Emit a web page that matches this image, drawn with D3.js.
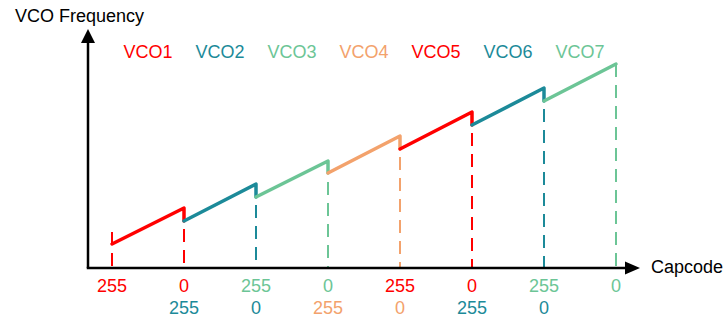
<!DOCTYPE html>
<html><head><meta charset="utf-8">
<script src="https://cdn.jsdelivr.net/npm/d3@7"></script>
<style>
html,body{margin:0;padding:0;background:#fff;}
svg{display:block;font-family:"Liberation Sans",Arial,Helvetica,sans-serif;}
</style></head>
<body>
<script>
// ---- data ----
const vcoNames = ["VCO1","VCO2","VCO3","VCO4","VCO5","VCO6","VCO7"];
const vcoColors = ["#ff0000","#1c8a99","#6cc596","#f3a26c","#ff0000","#1c8a99","#6cc596"];
const freqStart = [24, 47, 71, 95, 119, 143, 167];   // frequency at capcode 255 (arb. units)
const freqEnd   = [60, 84, 107, 132, 156, 180, 204]; // frequency at capcode 0
const capStart = ["255","255","255","255","255","255","255"];
const capEnd   = ["0","0","0","0","0","0","0"];
const firstMarkTop = 36; // top of the first boundary marker
const xAxisTitle = "Capcode";
const yAxisTitle = "VCO Frequency";

// ---- layout ----
const W = 726, H = 318;
const svg = d3.select("body").append("svg").attr("width", W).attr("height", H);
const nB = vcoNames.length; // boundaries 0..nB
const x = d3.scaleLinear().domain([0, nB]).range([112, 616]);
const y = d3.scaleLinear().domain([0, 240]).range([268, 28]);
const x0 = 88, yAx = y(0);

// dashed boundary markers (drawn first)
const bounds = d3.range(nB + 1).map(i => ({
  i,
  top: i === 0 ? firstMarkTop : freqEnd[i - 1],
  color: vcoColors[i === 0 ? 0 : i - 1]
}));
svg.append("g").selectAll("line").data(bounds).join("line")
  .attr("x1", d => x(d.i)).attr("x2", d => x(d.i))
  .attr("y1", d => y(d.top)).attr("y2", yAx)
  .attr("stroke", d => d.color).attr("stroke-width", 2)
  .attr("stroke-dasharray", "13,8");

// VCO segments with drop to next
const segs = vcoNames.map((n, i) => ({ i, name: n }));
const g = svg.append("g");
g.selectAll("path").data(segs).join("path")
  .attr("d", d => {
    const p = d3.path();
    p.moveTo(x(d.i), y(freqStart[d.i]));
    p.lineTo(x(d.i + 1), y(freqEnd[d.i]));
    if (d.i + 1 < nB) p.lineTo(x(d.i + 1), y(freqStart[d.i + 1]));
    return p.toString();
  })
  .attr("fill", "none")
  .attr("stroke", d => vcoColors[d.i])
  .attr("stroke-width", 3.5)
  .attr("stroke-linejoin", "round")
  .attr("stroke-linecap", "round");

// legend labels above segments
svg.append("g").selectAll("text").data(segs).join("text")
  .attr("x", d => (x(d.i) + x(d.i + 1)) / 2)
  .attr("y", 58)
  .attr("text-anchor", "middle")
  .attr("font-size", 18)
  .attr("fill", d => vcoColors[d.i])
  .text(d => d.name);

// axes
svg.append("line").attr("x1", x0).attr("x2", x0).attr("y1", yAx).attr("y2", 42)
  .attr("stroke", "#000").attr("stroke-width", 2.5);
svg.append("path").attr("d", `M${x0 - 7},43 L${x0},29 L${x0 + 7},43 Z`).attr("fill", "#000");
svg.append("line").attr("x1", x0 - 1.25).attr("x2", 627).attr("y1", yAx).attr("y2", yAx)
  .attr("stroke", "#000").attr("stroke-width", 2.5);
svg.append("path").attr("d", `M625,${yAx - 6.5} L640,${yAx} L625,${yAx + 6.5} Z`).attr("fill", "#000");

svg.append("text").attr("x", 15).attr("y", 22).attr("font-size", 18).attr("fill", "#000").text(yAxisTitle);
svg.append("text").attr("x", 651).attr("y", 273).attr("font-size", 18).attr("fill", "#000").text(xAxisTitle);

// capcode labels: even VCOs on row 1, odd VCOs on row 2
const capLabels = [];
segs.forEach(d => {
  const row = d.i % 2 === 0 ? 292 : 314;
  capLabels.push({ xpos: x(d.i), yy: row, t: capStart[d.i], c: vcoColors[d.i] });
  capLabels.push({ xpos: x(d.i + 1), yy: row, t: capEnd[d.i], c: vcoColors[d.i] });
});
svg.append("g").selectAll("text").data(capLabels).join("text")
  .attr("x", d => d.xpos).attr("y", d => d.yy)
  .attr("text-anchor", "middle").attr("font-size", 18)
  .attr("fill", d => d.c).text(d => d.t);
</script>
</body></html>
